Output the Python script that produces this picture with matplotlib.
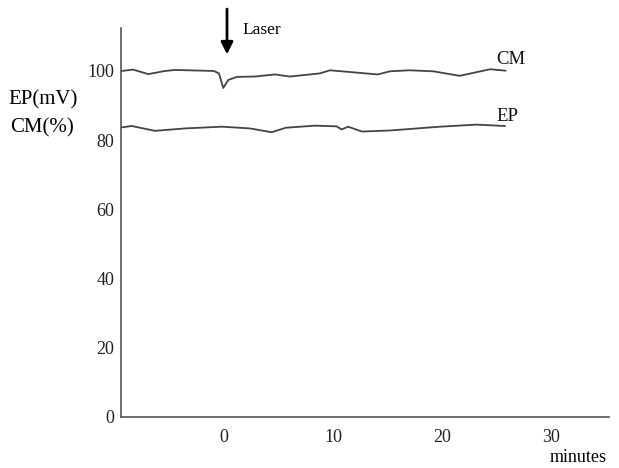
import matplotlib
matplotlib.use("Agg")
import matplotlib.pyplot as plt

plt.rcParams['font.family'] = ['Liberation Serif', 'DejaVu Serif']

# CM trace (minutes, %)
cm_t = [-9.39, -8.35, -6.95, -5.42, -4.5, -0.93, -0.47, -0.07, 0.38, 1.18, 2.83,
        4.67, 6.04, 8.79, 9.71, 14.1, 15.2, 17.0, 19.2, 21.6, 24.4, 25.8]
cm_v = [100.0, 100.4, 99.1, 100.0, 100.3, 100.0, 99.3, 95.1, 97.4, 98.3, 98.4,
        99.0, 98.4, 99.3, 100.2, 99.0, 99.9, 100.2, 99.9, 98.6, 100.5, 100.1]

# EP trace (minutes, mV)
ep_t = [-9.39, -8.47, -6.33, -3.58, -0.19, 2.37, 4.36, 5.67, 8.33, 10.32, 10.78,
        11.38, 12.64, 15.2, 19.8, 23.15, 25.75]
ep_v = [83.7, 84.1, 82.7, 83.4, 83.9, 83.4, 82.3, 83.6, 84.2, 84.0, 83.1,
        83.9, 82.5, 82.8, 83.9, 84.5, 84.1]

x_ticks = [0, 10, 20, 30]
y_ticks = [0, 20, 40, 60, 80, 100]
laser_t = 0.27

fig = plt.figure(figsize=(6.19, 4.68), dpi=100)
ax = fig.add_axes([0.1955, 0.109, 0.788, 0.831])

line_col = '#444444'
ax.plot(cm_t, cm_v, color=line_col, lw=1.3)
ax.plot(ep_t, ep_v, color=line_col, lw=1.3)

ax.set_xlim(-9.45, 35.28)
ax.set_ylim(0, 112.4)
ax.set_xticks(x_ticks)
ax.set_yticks(y_ticks)
ax.tick_params(length=0, labelsize=13, colors='#222222')
ax.tick_params(axis='x', pad=9)
ax.tick_params(axis='y', pad=5)

for s in ['top', 'right']:
    ax.spines[s].set_visible(False)
for s in ['left', 'bottom']:
    ax.spines[s].set_color('#555555')
    ax.spines[s].set_linewidth(1.2)

ax.text(cm_t[-1] - 0.8, 103.3, 'CM', fontsize=13.5, ha='left', va='center', color='#111111')
ax.text(ep_t[-1] - 0.8, 86.8, 'EP', fontsize=13.5, ha='left', va='center', color='#111111')

ax.annotate('', xy=(laser_t, 104.0), xytext=(laser_t, 118.7),
            arrowprops=dict(arrowstyle='-|>', color='black', lw=2, mutation_scale=18),
            annotation_clip=False)
ax.text(1.7, 111.8, 'Laser', fontsize=12.5, ha='left', va='center', clip_on=False)

fig.text(43 / 619, 1 - 100 / 468, 'EP(mV)', fontsize=15, ha='center', va='center')
fig.text(42 / 619, 1 - 128 / 468, 'CM(%)', fontsize=15, ha='center', va='center')
fig.text(578 / 619, 1 - 458 / 468, 'minutes', fontsize=13, ha='center', va='center')

fig.savefig('out.png', dpi=100)
